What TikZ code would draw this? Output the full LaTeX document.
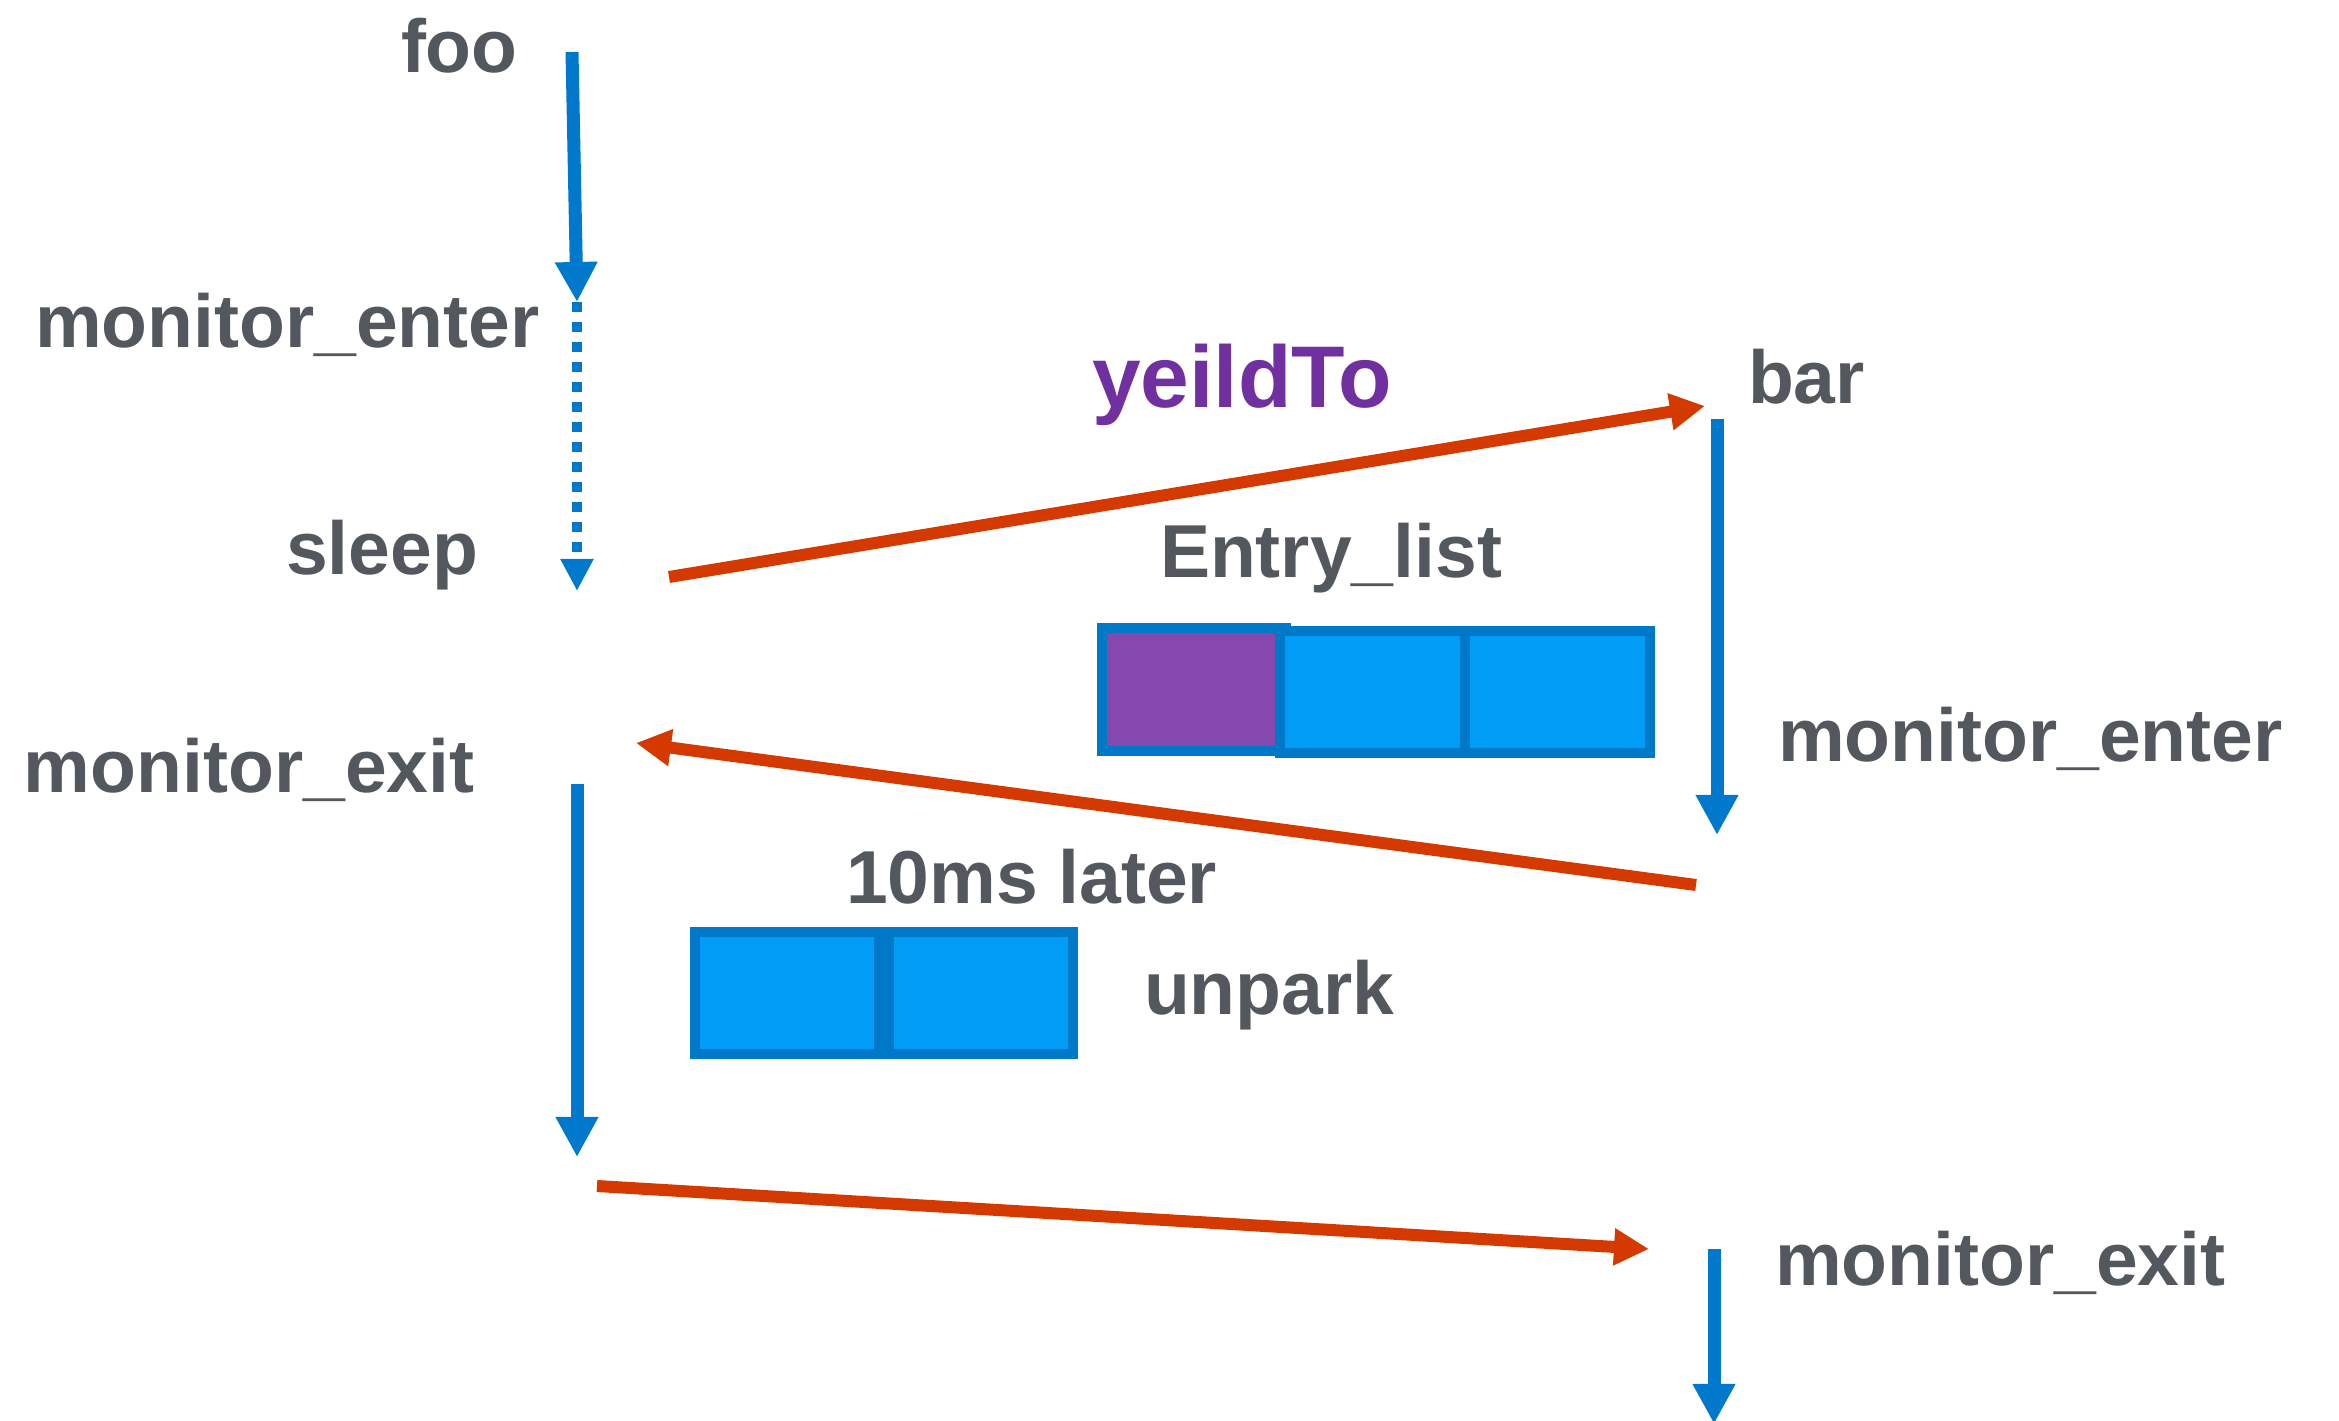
\documentclass[tikz,border=0pt]{standalone}
\usepackage{fontspec}
\setmainfont{Liberation Sans}
\usetikzlibrary{arrows.meta}

\definecolor{txtgray}{RGB}{83,87,94}
\definecolor{flowblue}{RGB}{0,120,204}
\definecolor{callred}{RGB}{212,58,0}
\definecolor{yieldpurple}{RGB}{112,48,160}
\definecolor{slotblue}{RGB}{0,156,245}
\definecolor{slotpurple}{RGB}{133,73,173}
\definecolor{slotedge}{RGB}{0,120,200}

\begin{document}
\begin{tikzpicture}[x=0.01cm,y=-0.01cm,
  lbl/.style={anchor=base west, inner sep=0pt, outer sep=0pt, text=txtgray,
    font=\fontsize{21.34pt}{25pt}\selectfont\bfseries},
  biglbl/.style={lbl, text=yieldpurple, font=\fontsize{24.9pt}{29pt}\selectfont\bfseries},
  flow/.style={draw=flowblue, line width=0.13cm,
    -{Triangle[length=0.4cm,width=0.4cm]}},
  waitflow/.style={draw=flowblue, line width=0.1cm, dash pattern=on 0.1cm off 0.1cm,
    -{Triangle[length=0.32cm,width=0.31cm]}},
  call/.style={draw=callred, line width=0.12cm,
    -{Triangle[length=0.35cm,width=0.35cm]}},
  slot/.style={draw=slotedge, line width=0.105cm, fill=slotblue},
  heldslot/.style={slot, fill=slotpurple}
]
\useasboundingbox (0,0) rectangle (2339,1421);

% thread labels
\node[lbl] (foo) at (401,72) {foo};
\node[lbl] (fenter) at (35,347) {monitor\_enter};
\node[lbl] (fsleep) at (286,574) {sleep};
\node[lbl] (fexit) at (24,792) {monitor\_exit};
\node[lbl] (bar) at (1748,403) {bar};
\node[lbl] (benter) at (1778,761) {monitor\_enter};
\node[lbl] (bexit) at (1775,1285) {monitor\_exit};
\node[biglbl] (yield) at (1092,407) {yeildTo};
\node[lbl] (entry) at (1160,577) {Entry\_list};
\node[lbl] (later) at (846,903) {10ms later};
\node[lbl] (unpark) at (1144,1014) {unpark};

% entry list slots
\draw[heldslot] (1102,628) rectangle (1286,751);
\draw[slot] (1280,631) rectangle (1465,753);
\draw[slot] (1465,631) rectangle (1650,753);

% slots being unparked
\draw[slot] (695,932) rectangle (879,1054);
\draw[slot] (889,932) rectangle (1073,1054);

% timeline end points
\coordinate (fooTop) at (572,52);
\coordinate (fooEnter) at (577,302);
\coordinate (fooSleep) at (577,591);
\coordinate (fooResume) at (577,784);
\coordinate (fooDone) at (577,1157);
\coordinate (barTop) at (1717,419);
\coordinate (barEnter) at (1717,835);
\coordinate (barExitTop) at (1714,1249);
\coordinate (barExitEnd) at (1714,1424);

% calls between threads
\coordinate (yieldFrom) at (669,577);
\coordinate (yieldTo) at (1705,406);
\coordinate (wakeFrom) at (1696,885);
\coordinate (wakeTo) at (636,743);
\coordinate (exitFrom) at (597,1186);
\coordinate (exitTo) at (1649,1249);

% foo timeline
\draw[flow] (fooTop) -- (fooEnter);
\draw[waitflow] (fooEnter) -- (fooSleep);
\draw[flow] (fooResume) -- (fooDone);

% bar timeline
\draw[flow] (barTop) -- (barEnter);
\draw[flow] (barExitTop) -- (barExitEnd);

% hand-offs
\draw[call] (yieldFrom) -- (yieldTo);
\draw[call] (wakeFrom) -- (wakeTo);
\draw[call] (exitFrom) -- (exitTo);
\end{tikzpicture}
\end{document}
